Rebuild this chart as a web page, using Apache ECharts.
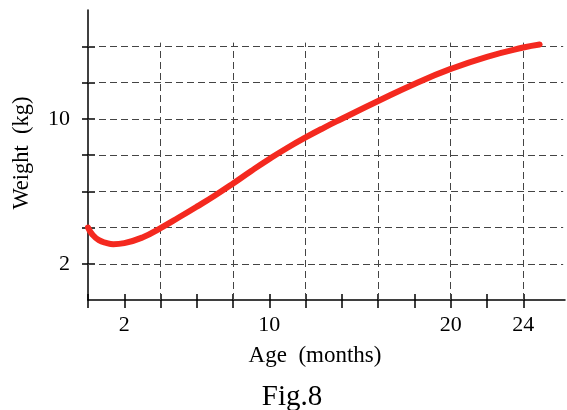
<!DOCTYPE html>
<html lang="en">
<head>
    <meta charset="UTF-8">
    <title>Fig.8</title>
    <script src="https://cdn.jsdelivr.net/npm/echarts@6/dist/echarts.min.js"></script>
    <style type="text/css">
        html, body {
            margin: 0;
            height: 100%;
            background: #fff;
        }
    </style>
</head>
<body>

<div id="main" style="width: 567px;height:410px;"></div>

<script>
    // weight curve (age in months, weight in kg)
    const ageMonths = [0, 0.25, 0.6, 1.0, 1.4, 2, 3, 4, 5, 6, 7, 8, 9, 10, 11, 12, 13, 14, 16, 18, 20, 22, 24, 24.9];
    const weightKg = [4.0, 3.6, 3.3, 3.15, 3.08, 3.14, 3.45, 3.97, 4.55, 5.15, 5.77, 6.43, 7.12, 7.78, 8.4, 8.97, 9.5, 10.0, 10.98, 11.92, 12.75, 13.42, 13.93, 14.1];

    const xTickValues = [0, 2, 4, 6, 8, 10, 12, 14, 16, 18, 20, 22, 24];
    const xLabelValues = [2, 10, 20, 24];
    const yTickValues = [2, 4, 6, 8, 10, 12, 14];
    const yLabelValues = [2, 10];
    const xGridValues = [4, 8, 12, 16, 20, 24];
    const yGridValues = [2, 4, 6, 8, 10, 12, 14];

    const X_MAX = 26.3;
    const Y_MAX = 16;
    const H_GRID_END = 26.2;   // horizontal dashed lines stop here (months)
    const V_GRID_TOP = 14.2;   // vertical dashed lines stop here (kg)

    const font = 'Liberation Serif';
    const axisColor = '#000';

    const gridLines = [];
    yGridValues.forEach(function (v) {
        gridLines.push([{coord: [0, v]}, {coord: [H_GRID_END, v]}]);
    });
    xGridValues.forEach(function (v) {
        gridLines.push([{coord: [v, 0]}, {coord: [v, V_GRID_TOP]}]);
    });

    function xAxisOf(inside) {
        return {
            type: 'value',
            min: 0,
            max: X_MAX,
            position: 'bottom',
            axisLine: {show: !inside, lineStyle: {color: axisColor, width: 1.5}},
            axisTick: {
                show: true,
                customValues: xTickValues,
                inside: inside,
                length: inside ? 6 : 8,
                lineStyle: {color: axisColor, width: 1.5}
            },
            axisLabel: {
                show: !inside,
                customValues: xLabelValues,
                margin: 14,
                color: '#000',
                fontFamily: font,
                fontSize: 22
            },
            splitLine: {show: false}
        };
    }

    function yAxisOf(inside) {
        return {
            type: 'value',
            min: 0,
            max: Y_MAX,
            position: 'left',
            axisLine: {show: !inside, lineStyle: {color: axisColor, width: 1.5}},
            axisTick: {
                show: true,
                customValues: yTickValues,
                inside: inside,
                length: inside ? 7 : 6,
                lineStyle: {color: axisColor, width: 1.5}
            },
            axisLabel: {
                show: !inside,
                customValues: yLabelValues,
                margin: 18,
                color: '#000',
                fontFamily: font,
                fontSize: 22
            },
            splitLine: {show: false}
        };
    }

    const myChart = echarts.init(document.getElementById('main'), null, {renderer: 'canvas'});
    const option = {
        animation: false,
        backgroundColor: '#fff',
        grid: {
            left: 88,
            right: 2,
            top: 10,
            bottom: 110,
            outerBoundsMode: 'none'
        },
        xAxis: [xAxisOf(false), xAxisOf(true)],
        yAxis: [yAxisOf(false), yAxisOf(true)],
        graphic: [
            {
                type: 'text',
                x: 22,
                y: 153,
                rotation: Math.PI / 2,
                style: {
                    text: 'Weight  (kg)',
                    font: '22.5px "Liberation Serif"',
                    fill: '#000',
                    align: 'center',
                    verticalAlign: 'middle'
                }
            },
            {
                type: 'text',
                x: 315,
                y: 356,
                style: {
                    text: 'Age  (months)',
                    font: '23px "Liberation Serif"',
                    fill: '#000',
                    align: 'center',
                    verticalAlign: 'middle'
                }
            },
            {
                type: 'text',
                x: 292,
                y: 397,
                style: {
                    text: 'Fig.8',
                    font: '29px "Liberation Serif"',
                    fill: '#000',
                    align: 'center',
                    verticalAlign: 'middle'
                }
            }
        ],
        series: [
            {
                name: 'grid',
                type: 'line',
                data: [],
                z: 1,
                silent: true,
                markLine: {
                    silent: true,
                    symbol: 'none',
                    label: {show: false},
                    lineStyle: {color: '#444', width: 1, type: [7, 4]},
                    data: gridLines
                }
            },
            {
                name: 'Weight',
                type: 'line',
                z: 5,
                smooth: 0.5,
                symbol: 'none',
                lineStyle: {color: '#f4291f', width: 6, cap: 'round'},
                data: ageMonths.map(function (m, i) {
                    return [m, weightKg[i]];
                })
            }
        ]
    };

    myChart.setOption(option);

    window.addEventListener("resize", function () {
        myChart.resize();
    });
</script>
</body>
</html>
